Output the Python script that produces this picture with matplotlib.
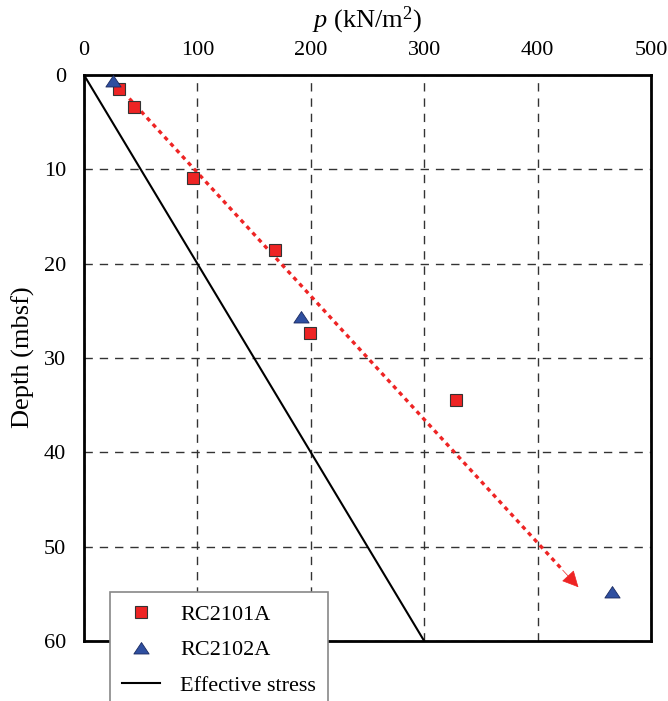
import matplotlib
matplotlib.use("Agg")
import matplotlib.pyplot as plt
from matplotlib.lines import Line2D
from matplotlib.path import Path

plt.rcParams['font.family'] = ['Liberation Serif', 'DejaVu Serif']
plt.rcParams['mathtext.fontset'] = 'custom'
plt.rcParams['mathtext.rm'] = 'Liberation Serif'
plt.rcParams['mathtext.it'] = 'Liberation Serif:italic'

# Measured pressures (kN/m^2) and depths (mbsf)
rc2101a_p = [31, 44, 96, 168, 199, 328]
rc2101a_depth = [1.5, 3.4, 10.9, 18.6, 27.3, 34.5]

rc2102a_p = [26, 191, 466]
rc2102a_depth = [0.6, 25.7, 54.8]

# Effective stress line
eff_p = [0, 300]
eff_depth = [0, 60]

# Trend arrow (start, tip)
trend_p = [40, 436]
trend_depth = [2.5, 54.3]

x_ticks = [0, 100, 200, 300, 400, 500]
y_ticks = [0, 10, 20, 30, 40, 50, 60]

red = '#EE2424'
blue = '#2F4FA0'

fig = plt.figure(figsize=(6.68, 7.01), dpi=100)
ax = fig.add_axes([84/668, 1 - 641/701, 567/668, 566/701])

ax.set_xlim(0, 500)
ax.set_ylim(60, 0)
ax.xaxis.tick_top()
ax.set_xticks(x_ticks)
ax.set_yticks(y_ticks)
ax.tick_params(axis='both', length=0, labelsize=16)
ax.tick_params(axis='x', pad=11)
ax.tick_params(axis='y', pad=13)
for s in ax.spines.values():
    s.set_linewidth(2)
    s.set_color('black')

ax.grid(True, linestyle=(0, (6, 5)), color='#333333', linewidth=1)
ax.set_axisbelow(True)

# Effective stress
ax.plot(eff_p, eff_depth, color='black', linewidth=1.5, zorder=3)

# Trend arrow: dotted shaft plus filled head
t = 0.965
mid_p = trend_p[0] + t * (trend_p[1] - trend_p[0])
mid_d = trend_depth[0] + t * (trend_depth[1] - trend_depth[0])
ax.plot([trend_p[0], mid_p], [trend_depth[0], mid_d], color=red,
        linewidth=2.4, linestyle=(0, (1.3, 1.3)), zorder=3)
ax.annotate('', xy=(trend_p[1], trend_depth[1]), xytext=(mid_p, mid_d),
            arrowprops=dict(arrowstyle='-|>', color=red, lw=0.5,
                            mutation_scale=26, shrinkA=0, shrinkB=0),
            zorder=3)

tri = Path([(-1, -0.72), (1, -0.72), (0, 0.78), (-1, -0.72)],
           [Path.MOVETO, Path.LINETO, Path.LINETO, Path.CLOSEPOLY])

ax.plot(rc2101a_p, rc2101a_depth, linestyle='none', marker='s',
        markersize=9, markerfacecolor=red, markeredgecolor='#333333',
        markeredgewidth=0.8, zorder=4)
ax.plot(rc2102a_p, rc2102a_depth, linestyle='none', marker=tri,
        markersize=11, markerfacecolor=blue, markeredgecolor='#1a2a60',
        markeredgewidth=0.6, zorder=4)

fig.text(367/668, 1 - 20/701, r'$p$ (kN/m$^{2}$)', ha='center', va='center',
         fontsize=19)
fig.text(23/668, 1 - 357/701, 'Depth (mbsf)', ha='center', va='center',
         rotation=90, fontsize=19)

handles = [
    Line2D([], [], linestyle='none', marker='s', markersize=9,
           markerfacecolor=red, markeredgecolor='#333333', markeredgewidth=0.8),
    Line2D([], [], linestyle='none', marker=tri, markersize=11,
           markerfacecolor=blue, markeredgecolor='#1a2a60', markeredgewidth=0.6),
    Line2D([], [], color='black', linewidth=1.5),
]
leg = fig.legend(handles, ['RC2101A', 'RC2102A', 'Effective stress'],
                 loc='upper left', bbox_to_anchor=(110/668, 1 - 592/701),
                 bbox_transform=fig.transFigure, borderaxespad=0,
                 fontsize=16, frameon=True, fancybox=False,
                 edgecolor='#888888', framealpha=1, borderpad=0.55,
                 handlelength=1.7, handletextpad=0.9, labelspacing=0.68)
leg.get_frame().set_linewidth(1.2)
leg.set_zorder(10)

fig.savefig('out.png', dpi=100)
